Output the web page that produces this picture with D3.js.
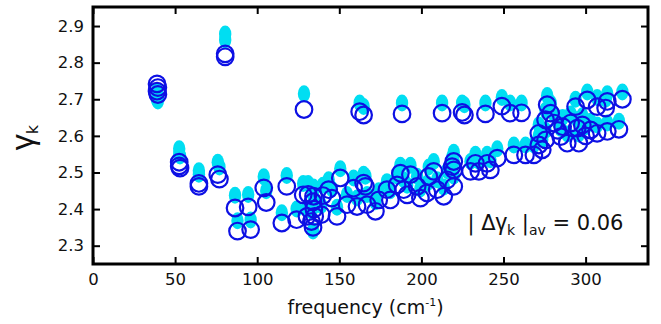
<!DOCTYPE html>
<html>
<head>
<meta charset="utf-8">
<script src="https://cdn.jsdelivr.net/npm/d3@7"></script>
<style>
  html, body { margin: 0; padding: 0; background: #fff; }
  svg text { font-family: "DejaVu Sans", "Liberation Sans", Arial, sans-serif; fill: #111; }
  svg text .greek { font-family: "Liberation Sans", Arial, sans-serif; }
</style>
</head>
<body>
<div id="chart"></div>
<script>
// frequency (cm-1) of each mode
const freq = [
  39, 39.5, 39, 39.5, 52.5, 52.5, 53, 64.5, 64.5, 76, 77, 80.5, 80.5,
  86.5, 88, 94.5, 96, 104, 105.5, 115, 118, 124, 128.5, 128, 131, 133,
  134, 134.5, 135, 134, 134.3, 130.3, 139, 140, 143.5, 145.5, 148.6, 150.6,
  154.7, 158.7, 160.8, 162.4, 164.8, 164.8, 165.9, 166.9, 172, 174, 179,
  181.1, 185.2, 187.2, 188.2, 189.2, 191.3, 193.3, 197.4, 199.4, 203.4,
  204.5, 207.5, 209.6, 212.6, 213.6, 215.7, 218.7, 219.7, 219.7, 219.7,
  224.8, 226.2, 229.9, 232.9, 235, 239, 240, 242, 246.2, 249, 254, 256.3,
  261, 263.4, 268.5, 271.5, 271.5, 273.6, 275.6, 275.6, 276.6, 278.7,
  280.7, 283, 284.8, 286, 288.8, 290.9, 293.9, 294.9, 295.9, 298, 300,
  301, 303, 307, 307, 312.2, 313.2, 313.2, 320.3, 322.4
];

// gamma_k, open blue circles
const gammaOpen = [
  2.742, 2.732, 2.722, 2.713, 2.528, 2.518, 2.512, 2.470, 2.462, 2.494, 2.482, 2.824, 2.816,
  2.403, 2.340, 2.406, 2.344, 2.458, 2.418, 2.362, 2.462, 2.371, 2.672, 2.439, 2.440, 2.366,
  2.350, 2.400, 2.380, 2.420, 2.435, 2.380, 2.385, 2.437, 2.453, 2.430, 2.380, 2.485,
  2.412, 2.457, 2.407, 2.666, 2.657, 2.471, 2.462, 2.412, 2.394, 2.425, 2.453,
  2.425, 2.466, 2.498, 2.660, 2.453, 2.439, 2.494, 2.462, 2.430, 2.444,
  2.489, 2.503, 2.453, 2.662, 2.435, 2.480, 2.516, 2.462, 2.530, 2.507,
  2.664, 2.657, 2.503, 2.525, 2.503, 2.660, 2.525, 2.507, 2.539, 2.681, 2.662, 2.548,
  2.663, 2.548, 2.548, 2.575, 2.607, 2.562, 2.589, 2.644, 2.685, 2.662,
  2.635, 2.615, 2.598, 2.625, 2.580, 2.635, 2.680, 2.621, 2.580, 2.630, 2.600,
  2.698, 2.616, 2.680, 2.607, 2.676, 2.694, 2.612, 2.618, 2.700
];

// gamma_k, filled cyan markers
const gammaFilled = [
  2.722, 2.705, 2.700, 2.695, 2.565, 2.550, 2.545, 2.505, 2.495, 2.528, 2.515, 2.878, 2.862,
  2.438, 2.368, 2.440, 2.370, 2.488, 2.450, 2.390, 2.492, 2.400, 2.715, 2.470, 2.470, 2.395,
  2.340, 2.420, 2.410, 2.440, 2.460, 2.400, 2.410, 2.465, 2.480, 2.455, 2.405, 2.510,
  2.440, 2.485, 2.430, 2.690, 2.680, 2.495, 2.490, 2.440, 2.420, 2.450, 2.475,
  2.450, 2.490, 2.520, 2.690, 2.480, 2.465, 2.520, 2.490, 2.455, 2.470,
  2.515, 2.530, 2.480, 2.690, 2.460, 2.505, 2.540, 2.490, 2.555, 2.530,
  2.690, 2.685, 2.530, 2.550, 2.530, 2.690, 2.550, 2.535, 2.565, 2.705, 2.690, 2.575,
  2.690, 2.575, 2.575, 2.600, 2.630, 2.590, 2.615, 2.670, 2.710, 2.690,
  2.660, 2.640, 2.620, 2.650, 2.605, 2.660, 2.700, 2.645, 2.605, 2.655, 2.625,
  2.720, 2.640, 2.705, 2.630, 2.700, 2.715, 2.635, 2.640, 2.720
];

const xTicks = [0, 50, 100, 150, 200, 250, 300];
const yTicks = [2.3, 2.4, 2.5, 2.6, 2.7, 2.8, 2.9];

const W = 661, H = 324;
const margin = { top: 7, right: 13, bottom: 60, left: 93 };
const width = W - margin.left - margin.right;
const height = H - margin.top - margin.bottom;

const svg = d3.select('#chart')
  .append('svg')
  .attr('width', W)
  .attr('height', H)
  .append('g')
  .attr('transform', `translate(${margin.left},${margin.top})`);

const x = d3.scaleLinear().domain([0, 338]).range([0, width]);
const y = d3.scaleLinear().domain([2.25, 2.952]).range([height, 0]);

const rows = freq.map((f, i) => ({ f, open: gammaOpen[i], filled: gammaFilled[i] }));

// --- Points ---
svg.append('g')
  .selectAll('ellipse')
  .data(rows)
  .enter()
  .append('ellipse')
  .attr('cx', d => x(d.f))
  .attr('cy', d => y(d.filled))
  .attr('rx', 6.2)
  .attr('ry', 8.5)
  .attr('fill', '#00def2');

svg.append('g')
  .selectAll('circle')
  .data(rows)
  .enter()
  .append('circle')
  .attr('cx', d => x(d.f))
  .attr('cy', d => y(d.open))
  .attr('r', 8.3)
  .attr('fill', 'none')
  .attr('stroke', '#0d10e4')
  .attr('stroke-width', 2.2);

// --- Axes (ticks pointing inward on all four sides) ---
const fontSize = '16.5px';

const gx = svg.append('g')
  .attr('transform', `translate(0,${height})`)
  .call(d3.axisBottom(x).tickValues(xTicks).tickSize(-7).tickPadding(9).tickFormat(d3.format('d')));
gx.selectAll('text').style('font-size', fontSize);

svg.append('g')
  .call(d3.axisTop(x).tickValues(xTicks).tickSize(-7).tickFormat(''));

const gy = svg.append('g')
  .call(d3.axisLeft(y).tickValues(yTicks).tickSize(-7).tickPadding(9).tickFormat(d3.format('.1f')));
gy.selectAll('text').style('font-size', fontSize);

svg.append('g')
  .attr('transform', `translate(${width},0)`)
  .call(d3.axisRight(y).tickValues(yTicks).tickSize(-7).tickFormat(''));

svg.selectAll('.domain').remove();
svg.selectAll('.tick line').attr('stroke', '#000').attr('stroke-width', 2);

svg.append('rect')
  .attr('width', width)
  .attr('height', height)
  .attr('fill', 'none')
  .attr('stroke', '#000')
  .attr('stroke-width', 3);

// --- Labels ---
const xl = svg.append('text')
  .attr('x', width / 2 - 5)
  .attr('y', height + 50)
  .attr('text-anchor', 'middle')
  .style('font-size', '19px');
xl.append('tspan').text('frequency (cm');
xl.append('tspan').attr('dy', -8).style('font-size', '11px').text('-1');
xl.append('tspan').attr('dy', 8).text(')');

const yl = svg.append('text')
  .attr('transform', `translate(${-60},${height / 2 + 2}) rotate(-90)`)
  .attr('text-anchor', 'middle')
  .style('font-size', '32px');
yl.append('tspan').attr('class', 'greek').text('γ');
yl.append('tspan').attr('dy', 5).style('font-size', '16px').text('k');

const note = svg.append('text')
  .attr('x', x(228))
  .attr('y', y(2.342))
  .style('font-size', '21px');
note.append('tspan').text('| Δ');
note.append('tspan').attr('class', 'greek').style('font-size', '23px').text('γ');
note.append('tspan').attr('dy', 5).style('font-size', '14px').text('k');
note.append('tspan').attr('dy', -5).text(' |');
note.append('tspan').attr('dy', 5).style('font-size', '14px').text('av');
note.append('tspan').attr('dy', -5).text(' = 0.06');
</script>
</body>
</html>
